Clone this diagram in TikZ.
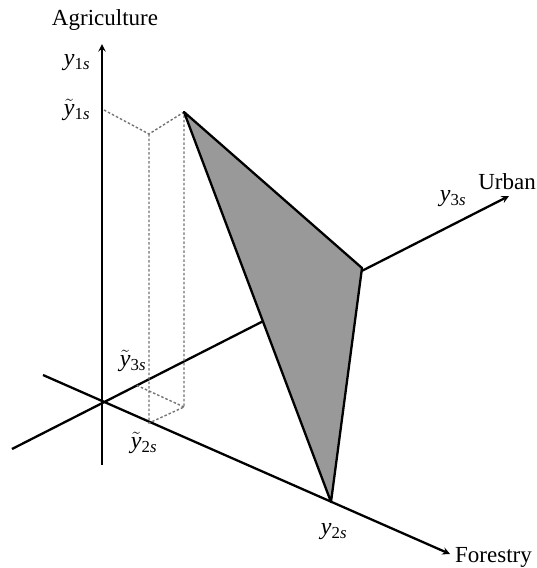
\documentclass[tikz,border=0pt]{standalone}
\usepackage{fontspec}
\setmainfont{Liberation Serif}
\usetikzlibrary{arrows}
\newcommand{\ylab}[2]{$#1{\mathit{y}}_{\mathrm{#2}\mathit{s}}$}
\begin{document}
\begin{tikzpicture}[x=1pt,y=-1pt,>=stealth,
  axis/.style={line width=2.3pt},
  guide/.style={black!55,line width=1.4pt,dash pattern=on 2.5pt off 2pt},
  lab/.style={font=\fontsize{23}{26}\selectfont,inner sep=0pt},
  ylab/.style={font=\fontsize{24}{26}\selectfont,inner sep=0pt}]
\useasboundingbox (0,0) rectangle (537,568);

% axes
\coordinate (O) at (102,402);
\coordinate (Atop) at (102,44);
\coordinate (Abot) at (102,465);
\coordinate (Uend) at (509,196);
\coordinate (Ubeg) at (12,449);
\coordinate (Fend) at (450,554);
\coordinate (Fbeg) at (43,375);

\draw[axis,->] (Abot)--(Atop);
\draw[axis,->] (Ubeg)--(Uend);
\draw[axis,->] (Fbeg)--(Fend);

% projection box
\coordinate (P1) at (184,112);
\coordinate (P2) at (331,502);
\coordinate (P3) at (362,268);
\coordinate (Q1) at (104,110);
\coordinate (Q2) at (149,134);
\coordinate (Q3) at (149,423);
\coordinate (Q4) at (184,407);
\coordinate (Q5) at (136,385);

\draw[guide] (Q1)--(Q2)--(P1);
\draw[guide] (Q2)--(Q3)--(Q4)--(P1);
\draw[guide] (Q4)--(Q5);

% simplex
\draw[line width=2.3pt,fill=black!40,line join=round] (P1)--(P3)--(P2)--cycle;

% labels
\node[lab] (agri) at (105,20) {Agriculture};
\node[lab] (urban) at (536,182) [anchor=east] {Urban};
\node[lab] (forest) at (455,557) [anchor=west] {Forestry};
\node[ylab] (y1) at (77,63) {\ylab{}{1}};
\node[ylab] (yt1) at (77,110) {\ylab{\tilde}{1}};
\node[ylab] (y3) at (453,199) {\ylab{}{3}};
\node[ylab] (yt3) at (133,361) {\ylab{\tilde}{3}};
\node[ylab] (yt2) at (144,443) {\ylab{\tilde}{2}};
\node[ylab] (y2) at (334,532) {\ylab{}{2}};
\end{tikzpicture}
\end{document}
